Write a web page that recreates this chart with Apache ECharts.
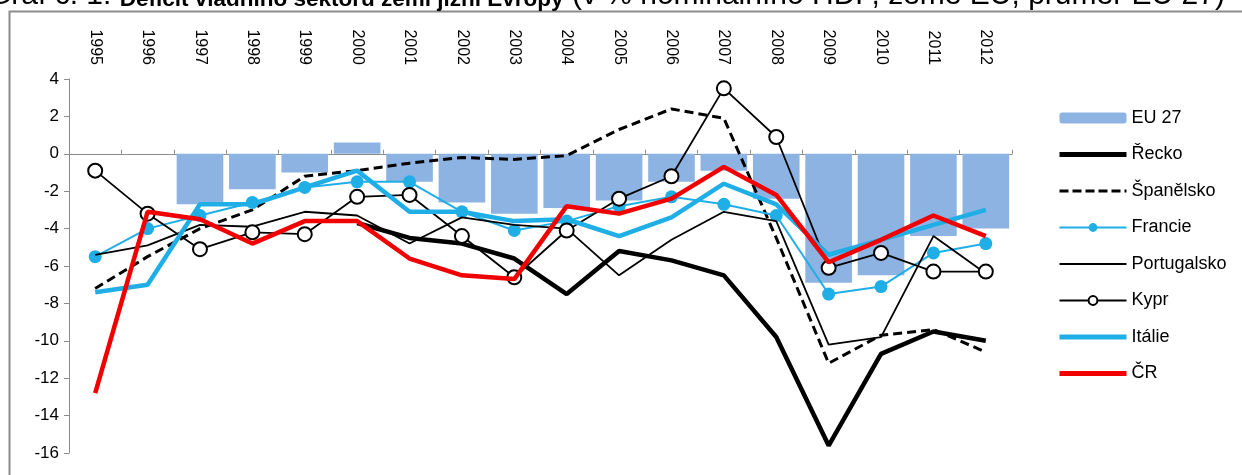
<!DOCTYPE html>
<html>
<head>
<meta charset="utf-8">
<script src="https://cdn.jsdelivr.net/npm/echarts@6/dist/echarts.min.js"></script>
<style>
html,body{margin:0;padding:0;background:#fff;}
#chart{width:1242px;height:475px;}
</style>
</head>
<body>
<div id="chart"></div>
<script>
const years = ['1995','1996','1997','1998','1999','2000','2001','2002','2003','2004','2005','2006','2007','2008','2009','2010','2011','2012'];
const yTicks = [4,2,0,-2,-4,-6,-8,-10,-12,-14,-16];
const eu27 = [null,null,-2.7,-1.9,-1.0,0.6,-1.5,-2.6,-3.2,-2.9,-2.5,-1.5,-0.9,-2.4,-6.9,-6.5,-4.4,-4.0];
const recko = [null,null,null,null,null,-3.7,-4.5,-4.8,-5.6,-7.5,-5.2,-5.7,-6.5,-9.8,-15.6,-10.7,-9.5,-10.0];
const spanelsko = [-7.2,-5.5,-4.0,-3.0,-1.2,-0.9,-0.5,-0.2,-0.3,-0.1,1.3,2.4,1.9,-4.5,-11.2,-9.7,-9.4,-10.6];
const francie = [-5.5,-4.0,-3.3,-2.6,-1.8,-1.5,-1.5,-3.1,-4.1,-3.6,-2.8,-2.3,-2.7,-3.3,-7.5,-7.1,-5.3,-4.8];
const portugalsko = [-5.4,-4.9,-3.8,-3.9,-3.1,-3.3,-4.8,-3.4,-3.8,-4.0,-6.5,-4.6,-3.1,-3.6,-10.2,-9.8,-4.4,-6.4];
const kypr = [-0.9,-3.2,-5.1,-4.2,-4.3,-2.3,-2.2,-4.4,-6.6,-4.1,-2.4,-1.2,3.5,0.9,-6.1,-5.3,-6.3,-6.3];
const italie = [-7.4,-7.0,-2.7,-2.7,-1.8,-0.9,-3.1,-3.1,-3.6,-3.5,-4.4,-3.4,-1.6,-2.7,-5.4,-4.6,-3.8,-3.0];
const cr = [-12.8,-3.1,-3.5,-4.8,-3.6,-3.6,-5.6,-6.5,-6.7,-2.8,-3.2,-2.4,-0.7,-2.2,-5.8,-4.6,-3.3,-4.4];

const FONT = 'Liberation Sans, Arial, sans-serif';
const BLUE = '#20AEE6';
const RED = '#F00000';
const hide = {opacity:0};
const chart = echarts.init(document.getElementById('chart'), null, {renderer:'canvas'});
chart.setOption({
  animation:false,
  backgroundColor:'#fff',
  textStyle:{fontFamily:FONT},
  graphic:[
    {type:'rect', left:7, top:9, shape:{width:1300, height:500}, style:{fill:'none', stroke:'#8c8c8c', lineWidth:2}, z:-1},
    {type:'text', left:-12, top:-19, z:10, style:{
      text:'{n|Graf č. 1: }{b|Deficit vládního sektoru zemí jižní Evropy}{m| (v % nominálního HDP, země EU, průměr EU 27)}',
      rich:{
        n:{fontSize:30, lineHeight:30, verticalAlign:'bottom', fontFamily:FONT, fill:'#000'},
        b:{fontSize:22.5, lineHeight:30, verticalAlign:'bottom', fontWeight:'bold', fontFamily:FONT, fill:'#000'},
        m:{fontSize:30, lineHeight:30, verticalAlign:'bottom', fontFamily:FONT, fill:'#000'}
      }
    }}
  ],
  grid:{left:69, right:230, top:79, bottom:22, containLabel:false},
  legend:{
    orient:'vertical', left:1057, top:109, padding:0, itemWidth:67, itemHeight:11, itemGap:18.5,
    textStyle:{fontSize:18, color:'#000', fontFamily:FONT},
    data:[
      {name:'EU 27'},
      {name:'Řecko', itemStyle:hide, lineStyle:{width:5}},
      {name:'Španělsko', itemStyle:hide, lineStyle:{width:3, type:[9,4]}},
      {name:'Francie', lineStyle:{width:2}},
      {name:'Portugalsko', itemStyle:hide, lineStyle:{width:2}},
      {name:'Kypr', lineStyle:{width:2}},
      {name:'Itálie', itemStyle:hide, lineStyle:{width:5}},
      {name:'ČR', itemStyle:hide, lineStyle:{width:5}}
    ]
  },
  xAxis:[
    {type:'category', data:years, position:'bottom', boundaryGap:true,
     axisLine:{onZero:true, lineStyle:{color:'#8c8c8c', width:1}},
     axisTick:{show:true, inside:true, length:4, lineStyle:{color:'#8c8c8c'}},
     axisLabel:{show:false}, splitLine:{show:false}},
    {type:'category', data:years, position:'top', boundaryGap:true,
     axisLine:{show:false}, axisTick:{show:false},
     axisLabel:{show:true, rotate:90, margin:14, fontSize:16, color:'#000', fontFamily:FONT},
     splitLine:{show:false}}
  ],
  yAxis:{type:'value', min:-16, max:4, interval:2,
    axisLine:{show:true, lineStyle:{color:'#8c8c8c'}},
    axisTick:{show:true, length:5, lineStyle:{color:'#8c8c8c'}},
    axisLabel:{fontSize:17, color:'#000', margin:10, fontFamily:FONT},
    splitLine:{show:false}},
  series:[
    {name:'EU 27', type:'bar', data:eu27, itemStyle:{color:'#8DB3E2'}, barCategoryGap:'11%', z:1},
    {name:'Řecko', type:'line', data:recko, symbol:'none', lineStyle:{color:'#000', width:4.5}, itemStyle:{color:'#000'}, z:2},
    {name:'Španělsko', type:'line', data:spanelsko, symbol:'none', lineStyle:{color:'#000', width:3, type:[9,5]}, itemStyle:{color:'#000'}, z:3},
    {name:'Francie', type:'line', data:francie, symbol:'circle', symbolSize:13, showSymbol:true, lineStyle:{color:BLUE, width:2}, itemStyle:{color:BLUE, borderWidth:0}, z:4},
    {name:'Portugalsko', type:'line', data:portugalsko, symbol:'none', lineStyle:{color:'#000', width:1.8}, itemStyle:{color:'#000'}, z:5},
    {name:'Kypr', type:'line', data:kypr, symbol:'circle', symbolSize:14, showSymbol:true, lineStyle:{color:'#000', width:1.8}, itemStyle:{color:'#fff', borderColor:'#000', borderWidth:2}, z:6},
    {name:'Itálie', type:'line', data:italie, symbol:'none', lineStyle:{color:BLUE, width:4.5}, itemStyle:{color:BLUE}, z:7},
    {name:'ČR', type:'line', data:cr, symbol:'none', lineStyle:{color:RED, width:4.5}, itemStyle:{color:RED}, z:8}
  ]
});
</script>
</body>
</html>
